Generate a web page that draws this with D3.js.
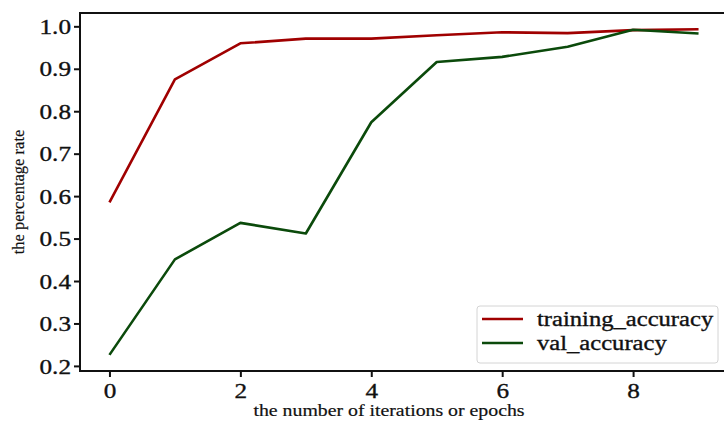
<!DOCTYPE html>
<html>
<head>
<meta charset="utf-8">
<script src="https://cdn.jsdelivr.net/npm/d3@7"></script>
<style>
  html, body { margin: 0; padding: 0; background: #fff; }
  svg { display: block; }
</style>
</head>
<body>
<svg id="chart" width="724" height="424"></svg>
<script>
// Accuracy per epoch
const epochs = [0, 1, 2, 3, 4, 5, 6, 7, 8, 9];
const trainingAccuracy = [0.585, 0.875, 0.960, 0.971, 0.971, 0.979, 0.986, 0.984, 0.991, 0.993];
const valAccuracy = [0.226, 0.451, 0.537, 0.512, 0.774, 0.916, 0.928, 0.952, 0.992, 0.983];
const xTicks = [0, 2, 4, 6, 8];
const yTicks = [0.2, 0.3, 0.4, 0.5, 0.6, 0.7, 0.8, 0.9, 1.0];

const series = [
  { name: "training_accuracy", values: trainingAccuracy, color: "#a00000" },
  { name: "val_accuracy", values: valAccuracy, color: "#0b4a0b" }
];

const SERIF = '"Liberation Serif", "DejaVu Serif", serif';
const WIDEN = 1.2; // text is drawn slightly wider than the font's natural width

const svg = d3.select("#chart");
const plotLeft = 80, plotRight = 728, plotTop = 13, plotBottom = 371;

const x = d3.scaleLinear().domain([-0.45, 9.45]).range([plotLeft, plotRight]);
const y = d3.scaleLinear().domain([0.188, 1.0314]).range([plotBottom, plotTop]);

function styleText(sel, size) {
  sel.style("font-family", SERIF)
     .style("font-size", size + "px")
     .attr("fill", "#111")
     .attr("stroke", "#111")
     .attr("stroke-width", 0.35);
}

// plot frame
svg.append("rect")
  .attr("x", plotLeft).attr("y", plotTop)
  .attr("width", plotRight - plotLeft).attr("height", plotBottom - plotTop)
  .attr("fill", "none").attr("stroke", "#111").attr("stroke-width", 2);

// y axis
const yAxis = svg.append("g")
  .attr("transform", `translate(${plotLeft},0)`)
  .call(d3.axisLeft(y).tickValues(yTicks).tickFormat(d3.format(".1f")).tickSizeOuter(0).tickSize(6).tickPadding(3));
yAxis.select(".domain").remove();
yAxis.selectAll(".tick line").attr("stroke", "#111").attr("stroke-width", 2);
yAxis.selectAll(".tick text").call(styleText, 21).attr("dy", "0.34em");

// x axis
const xAxis = svg.append("g")
  .attr("transform", `translate(0,${plotBottom})`)
  .call(d3.axisBottom(x).tickValues(xTicks).tickFormat(d3.format("d")).tickSizeOuter(0).tickSize(6).tickPadding(6));
xAxis.select(".domain").remove();
xAxis.selectAll(".tick line").attr("stroke", "#111").attr("stroke-width", 2);
xAxis.selectAll(".tick text").call(styleText, 21);

// axis titles
svg.append("text")
  .attr("class", "wide")
  .attr("x", 389).attr("y", 416)
  .attr("text-anchor", "middle")
  .call(styleText, 16.5)
  .attr("stroke-width", 0.2)
  .text("the number of iterations or epochs");

svg.append("text")
  .attr("transform", `translate(24,192) rotate(-90)`)
  .attr("text-anchor", "middle")
  .call(styleText, 16.5)
  .attr("stroke-width", 0.2)
  .text("the percentage rate");

// lines
const line = d3.line()
  .x((d, i) => x(epochs[i]))
  .y(d => y(d));

svg.selectAll("path.series")
  .data(series)
  .join("path")
  .attr("class", "series")
  .attr("d", d => line(d.values))
  .attr("fill", "none")
  .attr("stroke", d => d.color)
  .attr("stroke-width", 2.6)
  .attr("stroke-linejoin", "round");

// legend
const legend = svg.append("g");
legend.append("rect")
  .attr("x", 477).attr("y", 306)
  .attr("width", 241).attr("height", 57)
  .attr("rx", 3)
  .attr("fill", "#fff").attr("stroke", "#d4d4d4").attr("stroke-width", 1);

series.forEach((s, i) => {
  const cy = 319 + i * 24;
  legend.append("line")
    .attr("x1", 482).attr("x2", 523)
    .attr("y1", cy).attr("y2", cy)
    .attr("stroke", s.color).attr("stroke-width", 2.6);
  legend.append("text")
    .attr("class", "wide")
    .attr("x", 537).attr("y", cy)
    .attr("dy", "0.35em")
    .call(styleText, 20.5)
    .text(s.name);
});

// widen horizontal labels
svg.selectAll(".tick text").classed("wide", true);
svg.selectAll("text.wide").each(function () {
  const len = this.getComputedTextLength();
  d3.select(this)
    .attr("textLength", len * WIDEN)
    .attr("lengthAdjust", "spacingAndGlyphs");
});
</script>
</body>
</html>
